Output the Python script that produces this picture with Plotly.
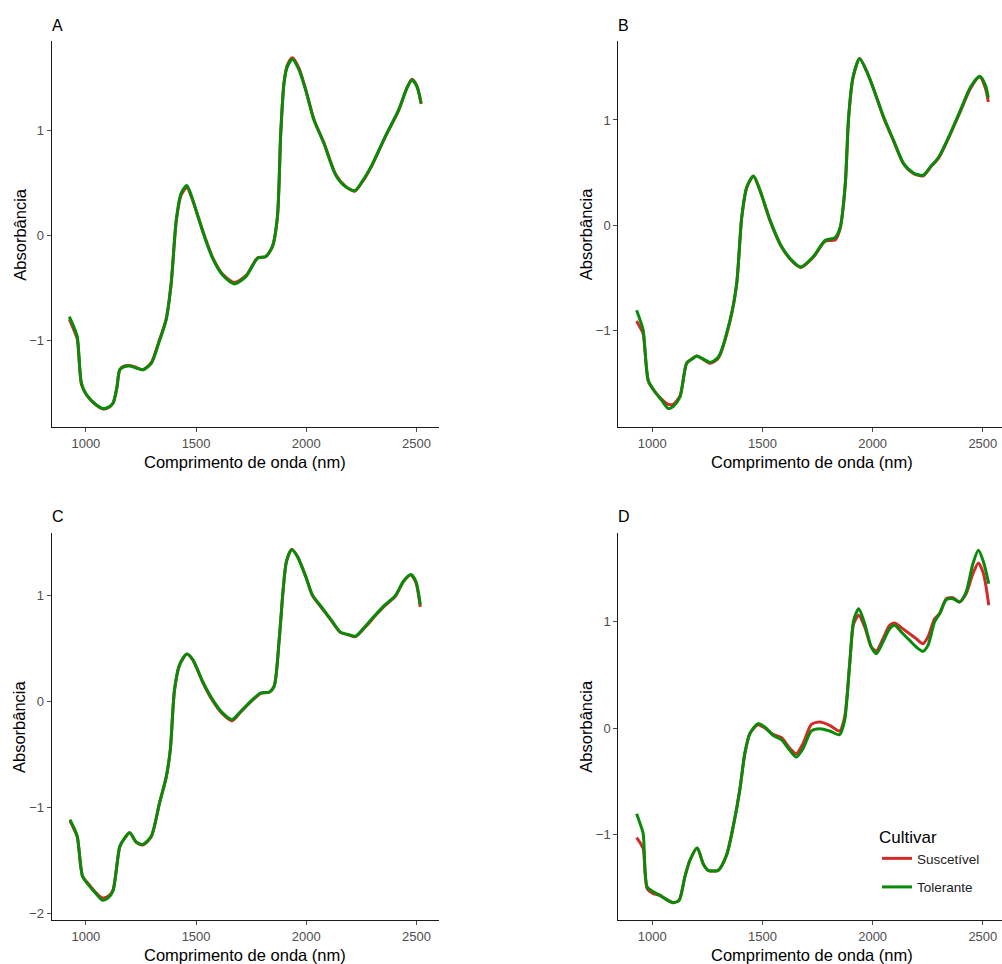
import plotly.graph_objects as go

W, H = 1002, 964

series_names = ["Suscetível", "Tolerante"]
series_colors = ["#D22B2B", "#098A09"]

# ---------------- Panel A ----------------
wl_A = [925, 945, 961, 980, 1003, 1048, 1078, 1100, 1123, 1140, 1154, 1175, 1199, 1230, 1259,
        1297, 1330, 1364, 1387, 1410, 1432, 1458, 1485, 1510, 1538, 1575, 1620, 1673, 1726,
        1779, 1816, 1846, 1869, 1884, 1899, 1914, 1937, 1967, 1997, 2035, 2080, 2133, 2178,
        2220, 2253, 2298, 2358, 2419, 2456, 2479, 2502, 2521]
tol_A = [-0.775, -0.87, -0.965, -1.41, -1.52, -1.616, -1.65, -1.64, -1.60, -1.46, -1.28, -1.25,
         -1.245, -1.265, -1.28, -1.22, -1.03, -0.806, -0.457, 0.146, 0.40, 0.473, 0.336, 0.17,
         -0.013, -0.219, -0.378, -0.463, -0.394, -0.219, -0.203, -0.108, 0.178, 0.971, 1.448,
         1.606, 1.676, 1.575, 1.384, 1.098, 0.876, 0.575, 0.463, 0.425, 0.511, 0.670, 0.940,
         1.194, 1.40, 1.479, 1.416, 1.257]
sus_A = [-0.80, -0.90, -0.99, -1.42, -1.52, -1.62, -1.655, -1.645, -1.60, -1.46, -1.28, -1.245,
         -1.24, -1.26, -1.28, -1.21, -1.02, -0.80, -0.46, 0.13, 0.38, 0.455, 0.33, 0.17,
         -0.005, -0.21, -0.37, -0.45, -0.385, -0.215, -0.205, -0.11, 0.17, 0.97, 1.46,
         1.62, 1.69, 1.59, 1.39, 1.10, 0.88, 0.58, 0.465, 0.42, 0.505, 0.665, 0.935,
         1.19, 1.40, 1.485, 1.42, 1.25]

# ---------------- Panel B ----------------
wl_B = [929, 945, 959, 982, 1012, 1042, 1073, 1095, 1126, 1156, 1180, 1202, 1262, 1300, 1353,
        1383, 1406, 1429, 1459, 1489, 1535, 1588, 1641, 1674, 1732, 1785, 1830, 1853, 1876,
        1891, 1911, 1941, 1974, 2012, 2050, 2095, 2141, 2186, 2229, 2262, 2300, 2345, 2398,
        2444, 2486, 2512, 2525]
tol_B = [-0.807, -0.90, -0.997, -1.47, -1.58, -1.66, -1.74, -1.72, -1.63, -1.31, -1.27, -1.24,
         -1.30, -1.25, -0.90, -0.554, 0.079, 0.364, 0.468, 0.332, 0.047, -0.206, -0.348,
         -0.396, -0.294, -0.142, -0.117, -0.016, 0.396, 1.028, 1.408, 1.582, 1.456, 1.25,
         1.028, 0.807, 0.585, 0.497, 0.475, 0.554, 0.649, 0.839, 1.092, 1.313, 1.415, 1.329,
         1.21]
sus_B = [-0.908, -0.97, -1.03, -1.48, -1.58, -1.65, -1.70, -1.70, -1.62, -1.31, -1.27, -1.24,
         -1.31, -1.26, -0.91, -0.56, 0.07, 0.36, 0.465, 0.33, 0.04, -0.21, -0.355,
         -0.40, -0.30, -0.15, -0.14, -0.03, 0.39, 1.02, 1.40, 1.585, 1.46, 1.25,
         1.02, 0.80, 0.58, 0.49, 0.47, 0.55, 0.64, 0.83, 1.08, 1.30, 1.41, 1.30,
         1.17]

# ---------------- Panel C ----------------
wl_C = [928, 945, 961, 985, 1011, 1048, 1075, 1101, 1123, 1154, 1176, 1199, 1229, 1259, 1297,
        1334, 1364, 1383, 1402, 1425, 1458, 1485, 1533, 1575, 1620, 1663, 1703, 1756, 1794,
        1831, 1854, 1877, 1895, 1910, 1934, 1959, 1997, 2027, 2072, 2117, 2155, 2193, 2223,
        2268, 2321, 2358, 2404, 2441, 2474, 2497, 2517]
tol_C = [-1.116, -1.19, -1.274, -1.65, -1.73, -1.82, -1.877, -1.855, -1.79, -1.37, -1.29, -1.24,
         -1.33, -1.35, -1.27, -0.96, -0.72, -0.456, 0.110, 0.346, 0.447, 0.393, 0.173, 0.016,
         -0.110, -0.173, -0.094, 0.016, 0.079, 0.085, 0.142, 0.582, 1.053, 1.32, 1.43, 1.368,
         1.179, 1.006, 0.881, 0.755, 0.651, 0.629, 0.613, 0.708, 0.833, 0.912, 0.997, 1.132,
         1.195, 1.132, 0.912]
sus_C = [-1.13, -1.20, -1.28, -1.65, -1.72, -1.81, -1.855, -1.84, -1.78, -1.37, -1.29, -1.24,
         -1.33, -1.355, -1.275, -0.96, -0.72, -0.46, 0.10, 0.34, 0.445, 0.39, 0.165, 0.005,
         -0.12, -0.185, -0.10, 0.01, 0.075, 0.085, 0.14, 0.58, 1.05, 1.32, 1.435, 1.37,
         1.18, 1.00, 0.875, 0.75, 0.65, 0.625, 0.61, 0.70, 0.825, 0.905, 0.99, 1.13,
         1.19, 1.12, 0.89]

# ---------------- Panel D ----------------
wl_D = [929, 945, 959, 977, 1005, 1035, 1065, 1095, 1122, 1148, 1171, 1204, 1231, 1254, 1299,
        1337, 1367, 1397, 1420, 1443, 1480, 1511, 1548, 1586, 1624, 1654, 1684, 1722, 1760,
        1805, 1850, 1873, 1896, 1914, 1937, 1964, 1994, 2017, 2047, 2077, 2100, 2130, 2168,
        2198, 2228, 2251, 2281, 2304, 2334, 2364, 2394, 2424, 2455, 2480, 2503, 2527]
tol_D = [-0.806, -0.90, -0.994, -1.495, -1.54, -1.574, -1.614, -1.643, -1.62, -1.40, -1.244,
         -1.128, -1.276, -1.339, -1.339, -1.197, -0.931, -0.586, -0.241, -0.053, 0.041, 0.009,
         -0.069, -0.11, -0.21, -0.273, -0.194, -0.028, -0.006, -0.028, -0.063, 0.072, 0.605,
         1.013, 1.122, 0.981, 0.762, 0.699, 0.809, 0.934, 0.966, 0.903, 0.824, 0.762, 0.721,
         0.777, 0.997, 1.075, 1.207, 1.216, 1.185, 1.279, 1.545, 1.671, 1.561, 1.357]
sus_D = [-1.031, -1.08, -1.135, -1.511, -1.558, -1.574, -1.614, -1.643, -1.62, -1.40, -1.244,
         -1.128, -1.276, -1.339, -1.339, -1.197, -0.931, -0.586, -0.241, -0.053, 0.031, 0.0,
         -0.06, -0.09, -0.19, -0.241, -0.147, 0.034, 0.056, 0.025, -0.028, 0.103, 0.605,
         0.981, 1.06, 0.95, 0.762, 0.724, 0.84, 0.966, 0.987, 0.944, 0.887, 0.84, 0.793,
         0.856, 1.028, 1.075, 1.216, 1.226, 1.185, 1.263, 1.451, 1.552, 1.451, 1.154]

x_ticks = [1000, 1500, 2000, 2500]
y_ticks = [-2, -1, 0, 1]
panel_labels = ["A", "B", "C", "D"]
x_title = "Comprimento de onda (nm)"
y_title = "Absorbância"

panels = [
    dict(wl=wl_A, sus=sus_A, tol=tol_A),
    dict(wl=wl_B, sus=sus_B, tol=tol_B),
    dict(wl=wl_C, sus=sus_C, tol=tol_C),
    dict(wl=wl_D, sus=sus_D, tol=tol_D),
]

# layout geometry (pixels)
x_doms_px = [(51.7, 439), (618.3, 1002), (51.7, 439), (618.3, 1002)]
y_doms_px = [(41, 427), (41, 427), (532.7, 920), (532.7, 920)]
x_ranges = [[845, 2602], [846, 2587], [845, 2602], [846, 2587]]
y_ranges = [[-1.826, 1.85], [-1.915, 1.75], [-2.063, 1.59], [-1.806, 1.837]]

fig = go.Figure()
layout = dict(
    width=W, height=H,
    margin=dict(l=0, r=0, t=0, b=0),
    paper_bgcolor="white", plot_bgcolor="white",
    font=dict(family="Liberation Sans, Arial, sans-serif", color="black"),
    showlegend=True,
    legend=dict(
        x=877 / W, y=1 - 821 / H, xanchor="left", yanchor="top",
        title=dict(text="Cultivar", font=dict(size=17, color="black")),
        font=dict(size=13.5, color="#222222"),
        bgcolor="rgba(0,0,0,0)", itemwidth=30, tracegroupgap=8,
    ),
)
annotations = []

for i, p in enumerate(panels):
    k = "" if i == 0 else str(i + 1)
    xa, ya = "x" + k, "y" + k
    for j, (name, vals) in enumerate([(series_names[0], p["sus"]), (series_names[1], p["tol"])]):
        fig.add_trace(go.Scatter(
            x=p["wl"], y=vals, mode="lines", name=name,
            line=dict(color=series_colors[j], width=3, shape="spline", smoothing=0.7),
            xaxis=xa, yaxis=ya, showlegend=(i == 3), legendgroup=name,
        ))
    x0, x1 = x_doms_px[i]
    yt, yb = y_doms_px[i]
    axis_common = dict(
        showline=True, linecolor="#1a1a1a", linewidth=1, mirror=False,
        ticks="outside", ticklen=4, tickcolor="#4d4d4d", tickwidth=1,
        tickfont=dict(size=13, color="#4d4d4d"),
        showgrid=False, zeroline=False,
    )
    layout["xaxis" + k] = dict(
        axis_common, domain=[x0 / W, x1 / W], range=x_ranges[i],
        tickvals=x_ticks, anchor=ya,
    )
    layout["yaxis" + k] = dict(
        axis_common, domain=[1 - yb / H, 1 - yt / H], range=y_ranges[i],
        tickvals=y_ticks, anchor=xa,
    )
    cx = (x0 + 439 if i in (0, 2) else x0 + 1006) / 2
    annotations.append(dict(
        text=x_title, xref="paper", yref="paper", x=cx / W, y=1 - (yb + 35) / H,
        xanchor="center", yanchor="middle", showarrow=False,
        font=dict(size=16.5, color="black"),
    ))
    annotations.append(dict(
        text=y_title, xref="paper", yref="paper", x=(x0 - 32) / W, y=1 - ((yt + yb) / 2) / H,
        xanchor="center", yanchor="middle", showarrow=False, textangle=-90,
        font=dict(size=16.5, color="black"),
    ))
    annotations.append(dict(
        text=panel_labels[i], xref="paper", yref="paper", x=(x0 - 2) / W, y=1 - (yt - 16) / H,
        xanchor="left", yanchor="middle", showarrow=False,
        font=dict(size=16, color="black"),
    ))

layout["annotations"] = annotations
fig.update_layout(**layout)
fig.write_html("out.html")
